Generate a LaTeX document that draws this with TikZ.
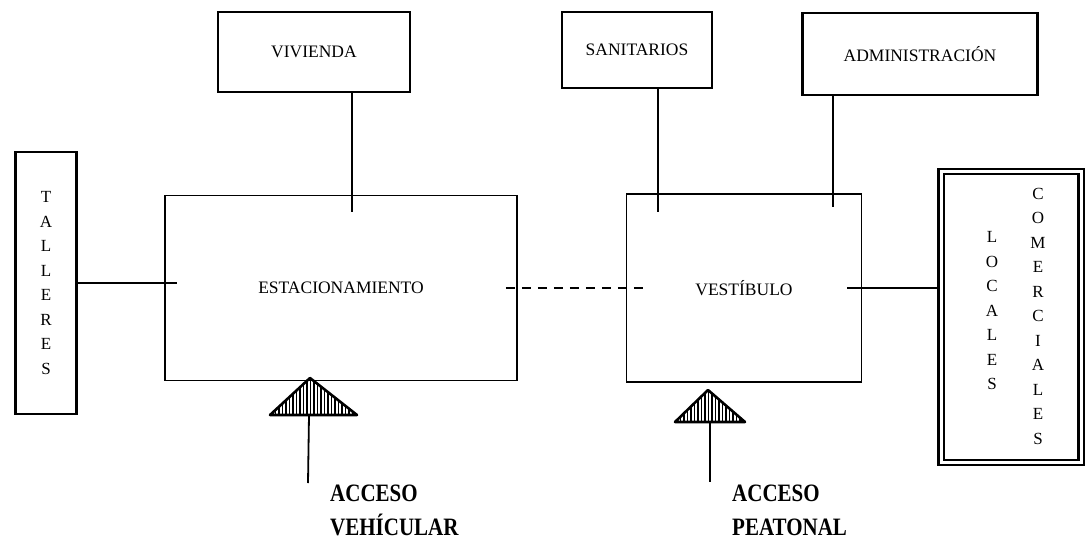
\documentclass[tikz,border=0pt]{standalone}
\usepackage{fontspec}
\setmainfont{Liberation Serif}
\newfontfamily\accfont[FakeStretch=0.84]{Liberation Serif}
\usetikzlibrary{positioning}

% hatched access mark: apex x, apex y, base left x, base right x, base y
\newcommand{\hatchmark}[5]{%
  \begin{scope}
    \clip (#1,#2) -- (#4,#5) -- (#3,#5) -- cycle;
    \foreach \hx in {2,5.5,...,90}
      \draw[line width=1.1pt] ({#3+\hx},#2) -- ({#3+\hx},#5);
  \end{scope}
  \draw[line width=2.6pt, line join=round] (#1,#2) -- (#4,#5) -- (#3,#5) -- cycle;
}

\begin{document}
\begin{tikzpicture}[x=1pt, y=-1pt,
  box/.style={rectangle, draw, line width=2.6pt, align=center, font=\fontsize{17.5}{20}\selectfont},
  area/.style={rectangle, draw, line width=1.6pt, align=center, font=\fontsize{17.5}{20}\selectfont},
  vtext/.style={align=center, inner sep=0pt, font=\fontsize{17}{24.5}\selectfont},
  link/.style={line width=1.4pt},
  accesslabel/.style={align=left, inner sep=0pt, anchor=north west, font=\accfont\bfseries\fontsize{25}{34}\selectfont}
]
  \useasboundingbox (0,0) rectangle (1089,540);

  % main areas
  \node[area, minimum width=352pt, minimum height=185pt] (estac) at (341,288) {ESTACIONAMIENTO};
  \node[area, minimum width=235pt, minimum height=188pt] (vest) at (744,288) {VESTÍBULO};

  % satellite boxes
  \node[box, minimum width=192pt, minimum height=80pt] (vivienda) at (314,52) {VIVIENDA};
  \node[box, minimum width=150pt, minimum height=76pt] (sanit) at (637,50) {SANITARIOS};
  \node[box, minimum width=235pt, minimum height=82pt] (admin) at (920,54) {ADMINISTRACIÓN};
  \node[box, minimum width=61pt, minimum height=262pt] (talleres) at (46,283) {};
  \node[vtext] at (talleres) {T\\A\\L\\L\\E\\R\\E\\S};
  \node[draw, line width=2.2pt, double, double distance=3pt, minimum width=140pt, minimum height=291pt] (locales) at (1011,317) {};
  \node[vtext] (loc) at (992,311) {L\\O\\C\\A\\L\\E\\S};
  \node[vtext] (com) at (1038,316) {C\\O\\M\\E\\R\\C\\I\\A\\L\\E\\S};

  % free ends inside the areas
  \coordinate (vivEnd) at (352,212);
  \coordinate (sanEnd) at (658,212);
  \coordinate (admEnd) at (833,207);

  \draw[link] (talleres.east) -- ([xshift=13pt]talleres.east -| estac.west);
  \draw[link] (vivienda.south -| vivEnd) -- (vivEnd);
  \draw[link] (sanit.south -| sanEnd) -- (sanEnd);
  \draw[link] (admin.south -| admEnd) -- (admEnd);
  \draw[link, dash pattern=on 9pt off 7pt] ([xshift=-12pt]estac.east) -- ([xshift=23pt]vest.west);
  \draw[link] ([xshift=-15pt]vest.east) -- (vest.east -| locales.west);

  % accesses
  \hatchmark{310}{378}{270}{357}{415}
  \hatchmark{708}{390}{675}{745}{422}
  \coordinate (vehBase) at (309,415);
  \coordinate (vehEnd) at (308,483);
  \coordinate (peaBase) at (710,422);
  \coordinate (peaEnd) at (710,482);
  \draw[link, line width=1.8pt] (vehBase) -- (vehEnd);
  \draw[link, line width=1.8pt] (peaBase) -- (peaEnd);
  \node[accesslabel] (accVeh) at (330,485) {ACCESO\\VEHÍCULAR};
  \node[accesslabel] (accPea) at (732,485) {ACCESO\\PEATONAL};
\end{tikzpicture}
\end{document}
